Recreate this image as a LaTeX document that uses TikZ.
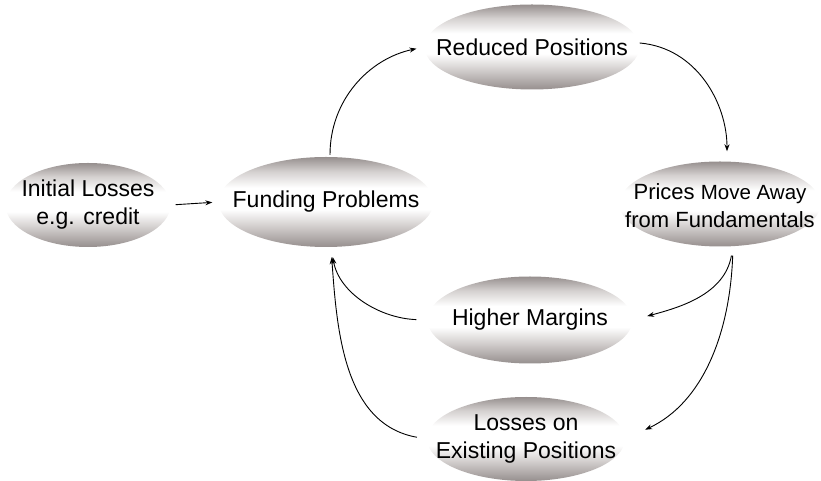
\documentclass[tikz,border=0pt]{standalone}
\usepackage{fontspec}
\setmainfont{Liberation Sans}
\usetikzlibrary{shapes.geometric, arrows.meta}

\definecolor{ovalgray}{RGB}{150,143,142}
\definecolor{ovalmid}{RGB}{212,208,207}
\pgfdeclareverticalshading{ovalshade}{100bp}{color(0bp)=(ovalgray); color(25bp)=(ovalgray);
  color(37bp)=(ovalmid); color(46bp)=(white); color(58bp)=(white); color(67bp)=(ovalmid);
  color(75bp)=(ovalgray); color(100bp)=(ovalgray)}

\tikzset{
  oval/.style={ellipse, inner sep=0pt, shading=ovalshade},
  ovaltext/.style={align=center, inner sep=0pt, font=\fontsize{23}{28}\selectfont},
  link/.style={-{Stealth[length=7pt,width=5pt]}, line width=0.9pt, black}
}

\begin{document}
\begin{tikzpicture}[x=1pt, y=1pt]
  \useasboundingbox (0,0) rectangle (821,481);

  % Draw ovals
  \node[oval, minimum width=165, minimum height=84] (init) at (88, 276) {};
  \node[oval, minimum width=215, minimum height=90] (fund) at (326, 279) {};
  \node[oval, minimum width=215, minimum height=85] (red) at (532, 434) {};
  \node[oval, minimum width=201, minimum height=85] (price) at (720, 277) {};
  \node[oval, minimum width=205, minimum height=87] (higher) at (530, 161) {};
  \node[oval, minimum width=198, minimum height=84] (loss) at (526, 42) {};

  % Draw texts
  \node[ovaltext] (init-t) at (init) {Initial Losses\\e.g. credit};
  \node[ovaltext] (fund-t) at (fund) {Funding Problems};
  \node[ovaltext] (red-t) at (red) {Reduced Positions};
  \node[ovaltext, font=\fontsize{22}{28}\selectfont] (price-t) at ([yshift=-2pt]price.center)
    {Prices {\fontsize{20.5}{28}\selectfont Move Away}\\from Fundamentals};
  \node[ovaltext] (higher-t) at (higher) {Higher Margins};
  \node[ovaltext] (loss-t) at (loss) {Losses on\\Existing Positions};

  % Draw arrows
  \draw[link, shorten <=5pt, shorten >=6pt] (init.east) -- (fund.west);
  \draw[link, shorten <=2pt, shorten >=8pt] ([xshift=4pt]fund.north) to[out=90, in=192] (red.west);
  \draw[link, shorten >=10pt] ([yshift=4pt]red.east) to[out=-5, in=90] ([xshift=7pt]price.north);
  \draw[link, shorten <=9pt, shorten >=15pt] ([xshift=13pt]price.south) to[out=-100, in=15] (higher.east);
  \draw[link, shorten <=9pt, shorten >=22pt] ([xshift=13pt]price.south) to[out=-92, in=25] (loss.east);
  \draw[link, shorten <=11pt, shorten >=10pt] (higher.west) to[out=178, in=-80] ([xshift=5pt]fund.south);
  \draw[link, shorten <=10pt, shorten >=10pt] (loss.west) to[out=170, in=-86] ([xshift=5pt]fund.south);
\end{tikzpicture}
\end{document}
